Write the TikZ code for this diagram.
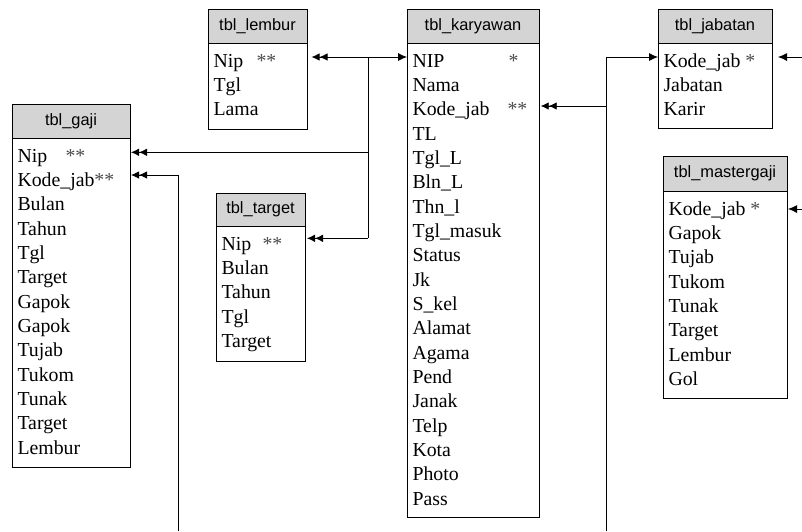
\documentclass[tikz,border=0pt]{standalone}
\usepackage{fontspec}
\setmainfont{Liberation Serif}
\newfontfamily\hdrfont{Liberation Sans}
\usetikzlibrary{arrows.meta}
\definecolor{hdrgray}{RGB}{212,212,212}
\newcommand\stars[1]{\textcolor{black!70}{#1}}
\tikzset{
  DblHead/.tip={Latex[length=8pt,width=7.5pt] Latex[length=8pt,width=7.5pt]},
  OneHead/.tip={Latex[length=9pt,width=8pt]},
  hdr/.style={draw=black, line width=0.9pt, fill=hdrgray, inner sep=0pt, outer sep=0pt,
    anchor=north west, font=\hdrfont\fontsize{16.4}{18}\selectfont},
  bodybox/.style={draw=black, line width=0.9pt, fill=white, inner sep=0pt, outer sep=0pt, anchor=north west},
  rowtxt/.style={inner sep=0pt, outer sep=0pt, anchor=base west, font=\fontsize{19.8}{24}\selectfont},
  conn/.style={draw=black, line width=0.8pt},
}
% name, x1, x2, ytop, yhdr, ybot, title, rows
\newcommand\dbtable[8]{%
  \node[hdr, minimum width={(#3-#2)*1pt}, minimum height={(#5-#4)*1pt}] (#1-h) at (#2,#4) {#7};
  \node[bodybox, minimum width={(#3-#2)*1pt}, minimum height={(#6-#5)*1pt}] (#1-b) at (#2,#5) {};
  \foreach \r [count=\i] in {#8} {
    \node[rowtxt] (#1-r\i) at ({#2+5.5},{#5+24+(\i-1)*24.35}) {\r};
  }
}
\begin{document}
\begin{tikzpicture}[x=1pt,y=-1pt]
\useasboundingbox[fill=white] (0,0) rectangle (802,531);

\dbtable{lembur}{208}{307}{9}{43}{129}{tbl\_lembur}{{\makebox[43pt][l]{Nip}\stars{**}},Tgl,Lama}
\dbtable{gaji}{12}{130}{104}{138}{467}{tbl\_gaji}{{\makebox[48pt][l]{Nip}\stars{**}},{Kode\_jab\stars{**}},Bulan,Tahun,Tgl,Target,Gapok,Gapok,Tujab,Tukom,Tunak,Target,Lembur}
\dbtable{target}{216}{305}{193}{226}{361}{tbl\_target}{{\makebox[41pt][l]{Nip}\stars{**}},Bulan,Tahun,Tgl,Target}
\dbtable{kary}{407}{539}{9}{43}{517}{tbl\_karyawan}{{\makebox[96pt][l]{NIP}\stars{*}},Nama,{\makebox[95pt][l]{Kode\_jab}\stars{**}},TL,Tgl\_L,Bln\_L,Thn\_l,Tgl\_masuk,Status,Jk,S\_kel,Alamat,Agama,Pend,Janak,Telp,Kota,Photo,Pass}
\dbtable{jab}{658}{772}{9}{43}{128}{tbl\_jabatan}{{Kode\_jab \stars{*}},Jabatan,Karir}
\dbtable{mg}{663}{787}{156}{191}{398}{tbl\_mastergaji}{{Kode\_jab \stars{*}},Gapok,Tujab,Tukom,Tunak,Target,Lembur,Gol}

% junction coordinates
\coordinate (j1) at (368,57);
\coordinate (jg) at (368,152.3);
\coordinate (j2) at (368,238.3);
\coordinate (g2) at (178,175);
\coordinate (g2e) at (178,531);
\coordinate (k1) at (606,57);
\coordinate (k2) at (606,106);
\coordinate (k3) at (606,531);
\coordinate (r1) at (802,57);
\coordinate (r2) at (802,209);

% left bus
\draw[conn, DblHead-OneHead, shorten <=4.5pt] (lembur-b.east |- j1) -- (kary-b.west |- j1);
\draw[conn] (j1) -- (j2);
\draw[conn, DblHead-, shorten <=1pt] (gaji-b.east |- jg) -- (jg);
\draw[conn, DblHead-, shorten <=2pt] (target-b.east |- j2) -- (j2);
\draw[conn, DblHead-, shorten <=1pt] (gaji-b.east |- g2) -- (g2) -- (g2e);

% right bus
\draw[conn, DblHead-, shorten <=1.7pt] (kary-b.east |- k2) -- (k2);
\draw[conn, -OneHead] (k3) -- (k1) -- (jab-b.west |- k1);
\draw[conn, -OneHead, shorten >=6pt] (r1) -- (jab-b.east |- r1);
\draw[conn, -OneHead, shorten >=1pt] (r2) -- (mg-b.east |- r2);
\end{tikzpicture}
\end{document}
